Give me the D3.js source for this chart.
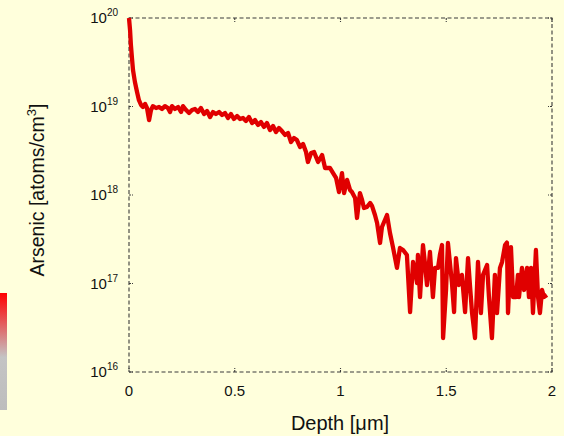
<!DOCTYPE html>
<html><head><meta charset="utf-8">
<script src="https://cdn.jsdelivr.net/npm/d3@7/dist/d3.min.js"></script>
<style>
html,body{margin:0;padding:0;background:#ffffdc;}
svg{display:block;font-family:"Liberation Sans",Arial,Helvetica,sans-serif;}
</style></head>
<body>
<svg id="chart" width="564" height="436"></svg>
<script>
// Depth in micrometres
const depth = [0,0.005,0.009,0.014,0.019,0.028,0.038,0.047,0.057,0.066,0.076,0.085,0.095,0.104,0.113,0.128,0.142,0.156,0.170,0.184,0.194,0.203,0.217,0.232,0.246,0.255,0.270,0.284,0.298,0.312,0.326,0.340,0.355,0.369,0.383,0.397,0.411,0.426,0.440,0.454,0.468,0.482,0.496,0.511,0.525,0.539,0.553,0.567,0.582,0.596,0.610,0.624,0.638,0.652,0.667,0.681,0.695,0.709,0.723,0.738,0.752,0.766,0.780,0.794,0.809,0.823,0.837,0.846,0.861,0.875,0.894,0.913,0.927,0.950,0.965,0.979,0.993,1.007,1.017,1.031,1.045,1.054,1.069,1.078,1.092,1.102,1.111,1.125,1.140,1.149,1.163,1.173,1.187,1.196,1.220,1.234,1.248,1.267,1.281,1.296,1.314,1.329,1.343,1.352,1.362,1.366,1.376,1.390,1.400,1.409,1.423,1.437,1.447,1.461,1.470,1.480,1.485,1.499,1.508,1.527,1.537,1.546,1.560,1.574,1.589,1.603,1.612,1.622,1.636,1.650,1.664,1.674,1.693,1.702,1.716,1.730,1.740,1.754,1.764,1.778,1.787,1.792,1.806,1.816,1.830,1.839,1.844,1.858,1.868,1.882,1.891,1.901,1.910,1.924,1.934,1.943,1.953,1.962,1.976];
// Arsenic concentration in atoms/cm^3
const arsenic = [1e20,7.3e19,4.95e19,3.53e19,2.58e19,1.89e19,1.46e19,1.18e19,1.04e19,9.87e18,1.07e19,9.62e18,7.03e18,9.12e18,1.01e19,9.62e18,9.87e18,9.37e18,1.01e19,9.62e18,8.67e18,1.01e19,9.37e18,9.87e18,8.67e18,1.01e19,9.12e18,8.45e18,9.12e18,9.37e18,8.67e18,9.62e18,8.23e18,8.89e18,7.60e18,8.67e18,8.23e18,8.67e18,8.02e18,8.45e18,7.41e18,8.23e18,7.22e18,7.81e18,7.22e18,7.41e18,6.85e18,7.60e18,6.51e18,7.03e18,6.18e18,6.68e18,5.87e18,6.51e18,5.42e18,6.03e18,5.15e18,5.72e18,5.28e18,4.76e18,5.02e18,3.97e18,4.41e18,4.18e18,3.48e18,3.77e18,3.06e18,2.36e18,2.98e18,3.06e18,2.36e18,2.83e18,2.02e18,2.02e18,1.77e18,1.56e18,1.08e18,1.77e18,1.05e18,1.48e18,1.14e18,1.08e18,9.25e17,5.50e17,1.05e18,8.79e17,7.13e17,7.31e17,8.13e17,7.52e17,5.94e17,4.83e17,2.87e17,4.35e17,5.94e17,3.72e17,2.58e17,1.5e17,2.52e17,2.39e17,2.10e17,4.76e16,1.75e17,1.42e17,1.01e17,2.10e17,7.03e16,2.72e17,1.62e17,9.62e16,2.27e17,7.03e16,1.50e17,1.50e17,2.10e17,2.72e17,2.42e16,8.45e16,2.87e17,1.01e17,4.76e16,1.94e17,9.62e16,1.25e17,4.76e16,1.94e17,9.62e16,4.64e16,2.42e16,1.75e17,4.64e16,1.25e17,1.62e17,7.03e16,2.42e16,1.25e17,4.64e16,1.50e17,1.75e17,2.72e17,2.9e17,4.64e16,2.58e17,7.03e16,7.03e16,1.25e17,7.03e16,1.50e17,8.45e16,1.50e17,7.03e16,1.50e17,4.64e16,2.39e17,7.03e16,4.64e16,8.45e16,7.03e16,7.41e16];
const xTicks = [0, 0.5, 1, 1.5, 2];
const xTickLabels = ["0", "0.5", "1", "1.5", "2"];
const yTicks = [1e16, 1e17, 1e18, 1e19, 1e20];
const yTickExponents = ["16", "17", "18", "19", "20"];
const xTitle = "Depth [\u03bcm]";
const yTitle = "Arsenic [atoms/cm";

const svg = d3.select("#chart");
const L = 129, R = 552, T = 18, B = 372;
const x = d3.scaleLinear().domain([0, 2]).range([L, R]);
const y = d3.scaleLog().domain([1e16, 1e20]).range([B, T]);

svg.append("rect").attr("width", 564).attr("height", 436).attr("fill", "#ffffdc");

// left decorative gradient bar
const defs = svg.append("defs");
const grad = defs.append("linearGradient").attr("id", "lg").attr("x1", 0).attr("y1", 0).attr("x2", 0).attr("y2", 1);
grad.append("stop").attr("offset", "0").attr("stop-color", "#ff0000");
grad.append("stop").attr("offset", "0.55").attr("stop-color", "#c4c4c4");
grad.append("stop").attr("offset", "1").attr("stop-color", "#bdbdbd");
svg.append("rect").attr("x", 0).attr("y", 293).attr("width", 7).attr("height", 117).attr("fill", "url(#lg)");

const frameColor = "#3a3a3a";
const dash = "4,2.5";
// frame
svg.append("rect").attr("x", L).attr("y", T).attr("width", R - L).attr("height", B - T)
  .attr("fill", "none").attr("stroke", frameColor).attr("stroke-width", 1.1).attr("stroke-dasharray", dash);

// ticks (inward)
const tl = 4;
const tg = svg.append("g").attr("stroke", frameColor).attr("stroke-width", 1.1).attr("stroke-dasharray", "2,1");
xTicks.forEach(v => {
  tg.append("line").attr("x1", x(v)).attr("x2", x(v)).attr("y1", B).attr("y2", B - tl);
  tg.append("line").attr("x1", x(v)).attr("x2", x(v)).attr("y1", T).attr("y2", T + tl);
});
yTicks.forEach(v => {
  tg.append("line").attr("x1", L).attr("x2", L + tl).attr("y1", y(v)).attr("y2", y(v));
  tg.append("line").attr("x1", R).attr("x2", R - tl).attr("y1", y(v)).attr("y2", y(v));
});

// x tick labels
svg.append("g").selectAll("text").data(xTicks).join("text")
  .attr("x", d => x(d)).attr("y", B + 24).attr("text-anchor", "middle")
  .attr("font-size", 15).attr("fill", "#111").text((d, i) => xTickLabels[i]);

// y tick labels
const yl = svg.append("g").selectAll("text").data(yTicks).join("text")
  .attr("x", 118).attr("y", d => y(d) + 5).attr("text-anchor", "end")
  .attr("font-size", 15).attr("fill", "#111");
yl.append("tspan").text("10");
yl.append("tspan").attr("font-size", 10).attr("dy", -7).text((d, i) => yTickExponents[i]);

// axis titles
svg.append("text").attr("x", 340).attr("y", 430).attr("text-anchor", "middle")
  .attr("font-size", 20).attr("fill", "#111").text(xTitle);
const yt = svg.append("text").attr("transform", "translate(44,190) rotate(-90)")
  .attr("text-anchor", "middle").attr("font-size", 19.5).attr("fill", "#111");
yt.append("tspan").text(yTitle);
yt.append("tspan").attr("font-size", 13).attr("dy", -8).text("3");
yt.append("tspan").attr("dy", 8).text("]");

// data line
const pts = depth.map((d, i) => [d, arsenic[i]]);
svg.append("path").datum(pts)
  .attr("fill", "none").attr("stroke", "#e00000").attr("stroke-width", 4.3)
  .attr("stroke-linejoin", "round")
  .attr("d", d3.line().x(d => x(d[0])).y(d => y(d[1])));
</script>
</body></html>
